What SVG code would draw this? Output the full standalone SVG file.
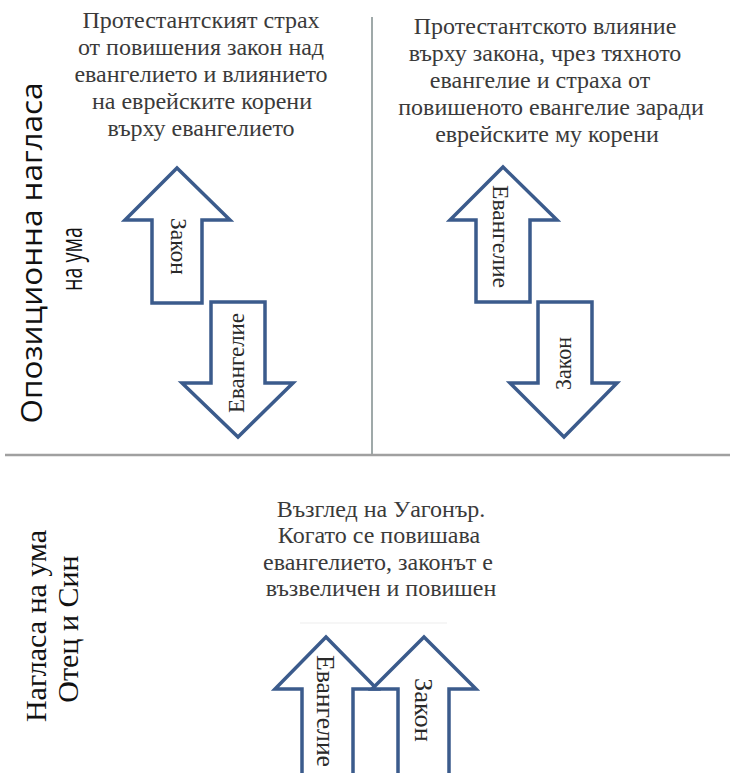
<svg xmlns="http://www.w3.org/2000/svg" width="730" height="773" viewBox="0 0 730 773">
  <style>
    .cap { font-family: "Liberation Serif", "Times New Roman", serif; font-size: 24px; fill: #3a3a3a; text-anchor: middle; }
    .arr { fill: #ffffff; stroke: #3b5b8c; stroke-width: 3.5; stroke-linejoin: miter; }
    .al { font-family: "Liberation Serif", "Times New Roman", serif; font-size: 24px; fill: #2a2a2a; text-anchor: middle; }
    .side { font-family: "Open Sans", "DejaVu Sans", sans-serif; font-size: 30px; fill: #111111; text-anchor: middle; }
    .side2 { font-family: "Liberation Serif", "Times New Roman", serif; font-size: 30px; fill: #111111; text-anchor: middle; }
  </style>
  <rect width="730" height="773" fill="#ffffff"/>

  <g id="dividers">
    <line x1="372" y1="17" x2="372" y2="455" stroke="#7f8c8c" stroke-width="1.5"/>
    <line x1="5" y1="455" x2="730" y2="455" stroke="#a0a0a0" stroke-width="2.5"/>
    <line x1="300" y1="623" x2="447" y2="623" stroke="#ededed" stroke-width="1"/>
  </g>

  <g id="label-opposition">
    <text class="side" transform="translate(42,253) rotate(-90)" textLength="341" lengthAdjust="spacingAndGlyphs">Опозиционна нагласа</text>
    <text class="side" transform="translate(82,259) rotate(-90)" textLength="64" lengthAdjust="spacingAndGlyphs">на ума</text>
  </g>

  <g id="label-father-son">
    <text class="side2" transform="translate(46,626) rotate(-90)">Нагласа на ума</text>
    <text class="side2" transform="translate(78,629) rotate(-90)">Отец и Син</text>
  </g>

  <g id="caption-left">
    <text class="cap" x="201" y="28">Протестантският страх</text>
    <text class="cap" x="201" y="55">от повишения закон над</text>
    <text class="cap" x="201" y="82">евангелието и влиянието</text>
    <text class="cap" x="202" y="109">на еврейските корени</text>
    <text class="cap" x="201" y="136">върху евангелието</text>
  </g>

  <g id="caption-right">
    <text class="cap" x="545" y="34">Протестантското влияние</text>
    <text class="cap" x="545" y="61">върху закона, чрез тяхното</text>
    <text class="cap" x="540" y="88">евангелие и страха от</text>
    <text class="cap" x="551" y="115">повишеното евангелие заради</text>
    <text class="cap" x="547" y="142">еврейските му корени</text>
  </g>

  <g id="caption-bottom">
    <text class="cap" x="381" y="517">Възглед на Уагонър.</text>
    <text class="cap" x="379" y="543">Когато се повишава</text>
    <text class="cap" x="378" y="570">евангелието, законът е</text>
    <text class="cap" x="381" y="596">възвеличен и повишен</text>
  </g>

  <g id="arrow-law-up-left">
    <path class="arr" d="M177,168 L230,220 L202,220 L202,303 L152,303 L152,220 L125,220 Z"/>
    <text class="al" transform="translate(171,246.5) rotate(90)" textLength="57" lengthAdjust="spacingAndGlyphs">Закон</text>
  </g>

  <g id="arrow-gospel-down-left">
    <path class="arr" d="M211,302 L265,302 L265,383 L293,383 L238,437 L182,383 L211,383 Z"/>
    <text class="al" transform="translate(244,363) rotate(-90)" textLength="100" lengthAdjust="spacingAndGlyphs">Евангелие</text>
  </g>

  <g id="arrow-gospel-up-right">
    <path class="arr" d="M503,167 L557,220 L530,220 L530,302 L476,302 L476,220 L450,220 Z"/>
    <text class="al" transform="translate(493,236.5) rotate(90)" textLength="103" lengthAdjust="spacingAndGlyphs">Евангелие</text>
  </g>

  <g id="arrow-law-down-right">
    <path class="arr" d="M538,302 L592,302 L592,383 L617,383 L564,437 L510,383 L538,383 Z"/>
    <text class="al" transform="translate(571,363.5) rotate(-90)" textLength="53" lengthAdjust="spacingAndGlyphs">Закон</text>
  </g>

  <g id="arrow-gospel-up-bottom">
    <path class="arr" d="M326,637 L377,689 L353,689 L353,790 L302,790 L302,689 L275,689 Z"/>
    <text class="al" transform="translate(317,711) rotate(90)" textLength="112" lengthAdjust="spacingAndGlyphs" style="font-size:25px">Евангелие</text>
  </g>

  <g id="arrow-law-up-bottom">
    <path class="arr" d="M424,637 L476,689 L449,689 L449,790 L398,790 L398,689 L372,689 Z"/>
    <text class="al" transform="translate(415,710) rotate(90)" textLength="64" lengthAdjust="spacingAndGlyphs" style="font-size:25px">Закон</text>
  </g>
</svg>
